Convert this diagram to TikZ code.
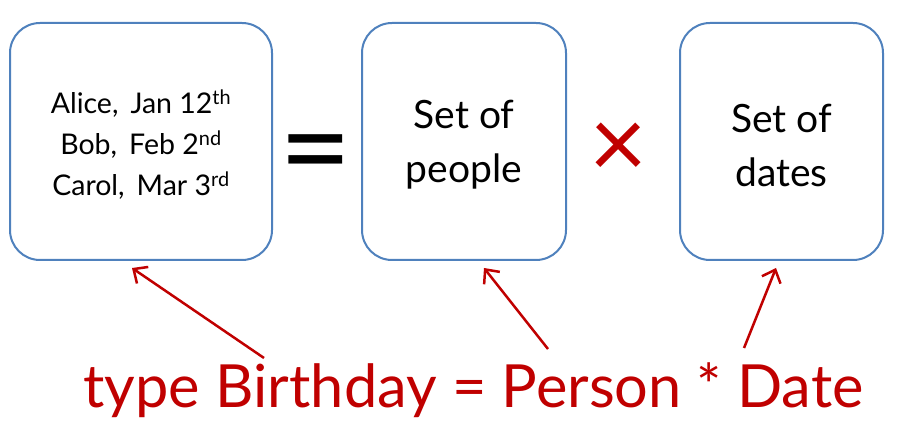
\documentclass[tikz,border=0pt]{standalone}
\usepackage{fontspec}
\setmainfont{Lato}
\usetikzlibrary{arrows.meta}
\definecolor{boxblue}{HTML}{4F81BD}
\definecolor{darkred}{HTML}{C00000}
\begin{document}
\begin{tikzpicture}[x=1pt, y=-1pt,
    setbox/.style={draw=boxblue, line width=2pt, rounded corners=30pt, align=center},
    pointer/.style={draw=darkred, line width=2.5pt, -{Straight Barb[length=11pt,width=20pt,line width=2.5pt]}}]
  \useasboundingbox (0,0) rectangle (905,446);

  % Conjuntos
  \node[setbox, minimum width=262pt, minimum height=237pt] (pairs) at (141,141.5) {};
  \node[setbox, minimum width=204pt, minimum height=237pt] (people) at (464,141.5) {};
  \node[setbox, minimum width=203pt, minimum height=237pt] (dates) at (781.5,141.5) {};

  % Elementos
  \node[align=center, font=\fontsize{28.5}{41}\selectfont] (pairstext) at (141,145)
    {Alice,\, Jan 12\textsuperscript{th}\\Bob,\, Feb 2\textsuperscript{nd}\\Carol,\, Mar 3\textsuperscript{rd}};
  \node[align=center, font=\fontsize{39}{54}\selectfont] (peopletext) at (464,145) {Set of\\people};
  \node[align=center, font=\fontsize{39}{54}\selectfont] (datestext) at (781.5,145) {Set of\\dates};

  % Operadores
  \node[font=\fontsize{125}{125}\selectfont] (eq) at (315.5,163) {=};
  \node[text=darkred, font=\fontsize{100}{100}\selectfont] (times) at (618.5,151) {×};

  % Tipo
  \node[anchor=base, text=darkred, font=\fontsize{59.5}{60}\selectfont] (type) at (473.5,407)
    {type Birthday = Person * Date};

  % Setas
  \coordinate (t1) at (264,358);
  \coordinate (t2) at (548,349);
  \coordinate (t3) at (744,348);
  \coordinate (h1) at (132,268);
  \coordinate (h2) at (484,268);
  \coordinate (h3) at (776,268);
  \draw[pointer] (t1) -- (h1);
  \draw[pointer] (t2) -- (h2);
  \draw[pointer] (t3) -- (h3);
\end{tikzpicture}
\end{document}
